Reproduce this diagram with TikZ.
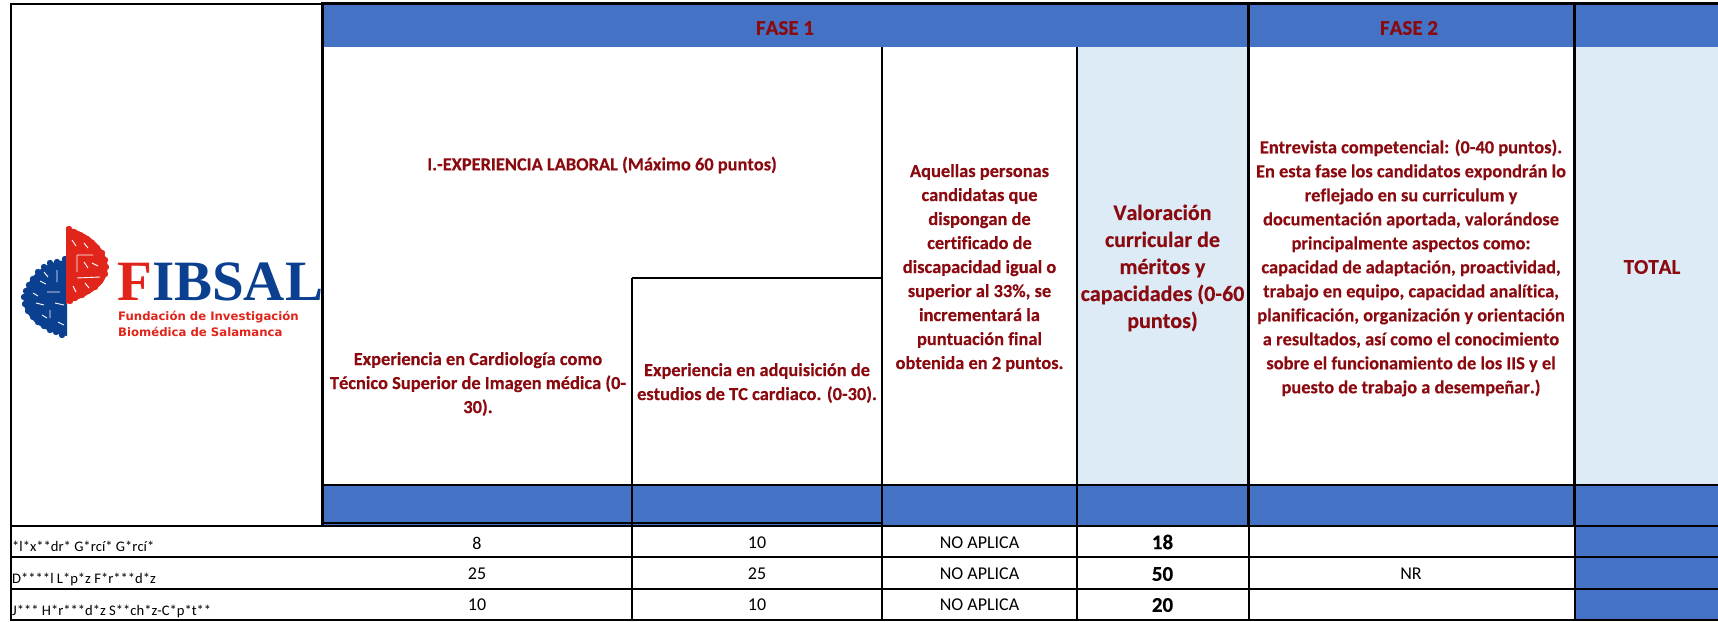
\documentclass[tikz,border=0pt]{standalone}
\usepackage{fontspec}
\setmainfont[Ligatures=NoCommon,Kerning=Off,BoldFeatures={FakeBold=0.35}]{Carlito}
\newfontfamily\logoserif{Liberation Serif}
\newfontfamily\logosans{DejaVu Sans}
\definecolor{hdrblue}{HTML}{4472C4}
\definecolor{paleblue}{HTML}{DDEBF7}
\definecolor{darkred}{HTML}{8A0A10}
\definecolor{logored}{HTML}{E1251B}
\definecolor{logoblue}{HTML}{0B3F8F}
\tikzset{
  x=1pt,y=-1pt,
  rule/.style={line width=2pt,black},
  heavy/.style={line width=2.8pt,black},
  head/.style={inner sep=0pt,align=center,text=darkred,font=\bfseries\fontsize{18.4}{24}\selectfont},
  bighead/.style={inner sep=0pt,align=center,text=darkred,font=\bfseries\fontsize{22}{27}\selectfont},
  phase/.style={inner sep=0pt,text=darkred,font=\bfseries\fontsize{21}{24}\selectfont},
  cell/.style={inner sep=0pt,font=\fontsize{18}{20}\selectfont},
  boldcell/.style={inner sep=0pt,font=\bfseries\fontsize{21}{24}\selectfont},
  namecell/.style={inner sep=0pt,anchor=west,font=\fontsize{14.6}{16}\selectfont},
  speck/.style={draw=white,line width=0.9pt},
}
\begin{document}
\begin{tikzpicture}
\useasboundingbox (0,0) rectangle (1718,621);
\fill[white] (0,0) rectangle (1718,621);
% fills
\fill[hdrblue] (323,4) rectangle (1718,47);
\fill[hdrblue] (323,485) rectangle (1718,526);
\fill[hdrblue] (1574.5,526) rectangle (1718,620);
\fill[paleblue] (1077,47) rectangle (1248.5,485);
\fill[paleblue] (1574.5,47) rectangle (1718,485);
% logo: blue half
\fill[logoblue] (67,260) .. controls (48,261) and (34,272) .. (28,284) .. controls (22,296) and (22,306) .. (28,314) .. controls (36,326) and (50,333) .. (67,336) -- cycle;
\foreach \p/\q in {65/259,57/262,50/263,44/267,38/272,33/279,29/285,26/291,24/297,25/304,28/311,33/317,38/322,44/326,50/330,56/332,62/335}
  \fill[logoblue] (\p,\q) circle (3.2pt);
\draw[speck] (57,270) -- (57,282) (47,292) -- (60,292) (40,281) -- (46,284) (36,303) -- (44,305) (50,310) -- (50,318) (55,303) -- (64,305) (44,272) -- (48,277) (33,293) -- (38,296) (42,315) -- (47,318) (58,322) -- (64,325);
% logo: red half
\fill[logored] (66,227) .. controls (84,231) and (100,242) .. (106,258) .. controls (110,270) and (106,282) .. (97,288) .. controls (88,296) and (76,300) .. (66,304) -- cycle;
\foreach \p/\q in {69/229,74/232,80/235,87/239,92/243,97/248,102/253,105/260,106/267,105/274,100/281,95/287,88/291,82/295,75/298,70/301}
  \fill[logored] (\p,\q) circle (3.2pt);
\draw[speck] (77,255) -- (93,255) (77,255) -- (77,272) (77,278) -- (100,277) (84,262) -- (88,268) (72,240) -- (76,246) (92,263) -- (98,266) (73,286) -- (76,292) (85,283) -- (89,288) (84,243) -- (88,248);
\node[inner sep=0pt,anchor=base west] (logoname) at (117,300) {\logoserif\bfseries\fontsize{57}{60}\selectfont\textcolor{logored}{F}\textcolor{logoblue}{IBSAL}};
\node[inner sep=0pt,anchor=west,text=logored] (logosubA) at (118,317) {\logosans\bfseries\fontsize{11.7}{15}\selectfont Fundación de Investigación};
\node[inner sep=0pt,anchor=west,text=logored] (logosubB) at (118,332) {\logosans\bfseries\fontsize{11.7}{15}\selectfont Biomédica de Salamanca};
% rules
\draw[rule] (11,4) -- (323,4);
\draw[heavy] (323,3.3) -- (1718,3.3);
\draw[rule] (11,3) -- (11,621);
\draw[heavy] (322.7,2) -- (322.7,526);
\draw[rule] (632,278) -- (632,621);
\draw[rule] (632,278) -- (882,278);
\draw[rule] (882,47) -- (882,621);
\draw[rule] (1077,47) -- (1077,621);
\draw[heavy] (1248.5,5) -- (1248.5,526);
\draw[rule] (1248.5,526) -- (1248.5,621);
\draw[heavy] (1574.5,5) -- (1574.5,526);
\draw[rule] (1574.5,526) -- (1574.5,621);
\draw[rule] (323,485) -- (1718,485);
\draw[line width=1.6pt] (323,522.7) -- (882,522.7);
\draw[rule] (11,526) -- (1718,526);
\draw[rule] (11,557) -- (1718,557);
\draw[rule] (11,589) -- (1718,589);
\draw[line width=1.6pt] (11,620) -- (1718,620);
% headers
\node[phase] (fase1) at (785,28) {FASE 1};
\node[phase] (fase2) at (1409,28) {FASE 2};
\node[head] (expl) at (602,165) {I.-EXPERIENCIA LABORAL (Máximo 60 puntos)};
\node[head] (cardio) at (478,384) {Experiencia en Cardiología como\\Técnico Superior de Imagen médica (0-\\30).};
\node[head] (tc) at (757,383) {Experiencia en adquisición de\\estudios de TC cardiaco. (0-30).};
\node[head] (disc) at (979.5,268) {Aquellas personas\\candidatas que\\dispongan de\\certificado de\\discapacidad igual o\\superior al 33\%, se\\incrementará la\\puntuación final\\obtenida en 2 puntos.};
\node[bighead] (valor) at (1162.5,268) {Valoración\\curricular de\\méritos y\\capacidades (0-60\\puntos)};
\node[head] (entre) at (1411,268) {Entrevista competencial: (0-40 puntos).\\En esta fase los candidatos expondrán lo\\reflejado en su curriculum y\\documentación aportada, valorándose\\principalmente aspectos como:\\capacidad de adaptación, proactividad,\\trabajo en equipo, capacidad analítica,\\planificación, organización y orientación\\a resultados, así como el conocimiento\\sobre el funcionamiento de los IIS y el\\puesto de trabajo a desempeñar.)};
\node[phase] (total) at (1652,267) {TOTAL};
% rows
\node[namecell] (n1) at (12,546) {*l*x**dr* G*rcí* G*rcí*};
\node[namecell] (n2) at (12,579) {D****l L*p*z F*r***d*z};
\node[namecell] (n3) at (12,611) {J*** H*r***d*z S**ch*z-C*p*t**};
\node[cell] (a1) at (477,543) {8};
\node[cell] (a2) at (477,574) {25};
\node[cell] (a3) at (477,605) {10};
\node[cell] (b1) at (757,543) {10};
\node[cell] (b2) at (757,574) {25};
\node[cell] (b3) at (757,605) {10};
\node[cell] (c1) at (979.5,543) {NO APLICA};
\node[cell] (c2) at (979.5,574) {NO APLICA};
\node[cell] (c3) at (979.5,605) {NO APLICA};
\node[boldcell] (d1) at (1162.5,542) {18};
\node[boldcell] (d2) at (1162.5,574) {50};
\node[boldcell] (d3) at (1162.5,605) {20};
\node[cell] (nr) at (1411,574) {NR};
\end{tikzpicture}
\end{document}
